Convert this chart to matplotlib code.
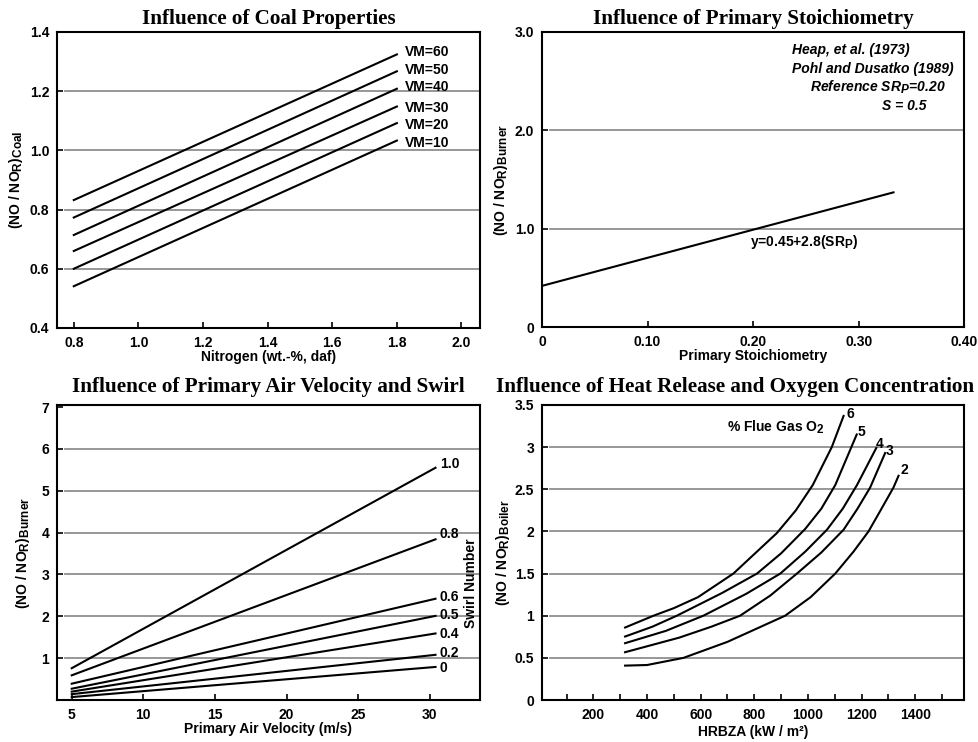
import matplotlib
matplotlib.use('Agg')
import matplotlib.pyplot as plt
import matplotlib._mathtext as mathtext

plt.rcParams['font.family'] = ['Liberation Sans', 'DejaVu Sans']
plt.rcParams['font.weight'] = 'bold'
plt.rcParams['axes.labelweight'] = 'bold'
plt.rcParams['mathtext.default'] = 'regular'
# subscripts in the original are nearly full size
mathtext.SHRINK_FACTOR = 0.85

# ---- top left: coal properties
nitrogen = [0.8, 1.8]
vm_names = ['VM=60', 'VM=50', 'VM=40', 'VM=30', 'VM=20', 'VM=10']
vm_start = [0.832, 0.773, 0.714, 0.660, 0.600, 0.541]
vm_end = [1.324, 1.267, 1.208, 1.148, 1.092, 1.033]
vm_label_y = [1.332, 1.273, 1.213, 1.144, 1.084, 1.025]

# ---- top right: primary stoichiometry
sr_p = [0.0, 0.333]
no_stoich = [0.42, 1.37]

# ---- bottom left: air velocity and swirl
swirl_names = ['1.0', '0.8', '0.6', '0.5', '0.4', '0.2', '0']
velocity = [5.0, 30.4]
swirl_start = [0.76, 0.59, 0.39, 0.27, 0.20, 0.14, 0.07]
swirl_end = [5.55, 3.84, 2.42, 2.01, 1.59, 1.08, 0.79]
swirl_label_y = [5.63, 3.97, 2.46, 2.02, 1.57, 1.13, 0.77]

# ---- bottom right: heat release, % O2
o2_names = ['6', '5', '4', '3', '2']
hrbza = [
    [318, 424, 500, 590, 722, 884, 955, 1018, 1089, 1133],
    [318, 420, 511, 680, 810, 900, 990, 1050, 1102, 1162, 1182],
    [318, 470, 610, 770, 897, 990, 1071, 1130, 1183, 1255],
    [318, 520, 640, 747, 860, 959, 1050, 1133, 1185, 1232, 1288],
    [318, 400, 536, 700, 915, 1010, 1102, 1170, 1226, 1262, 1319, 1338],
]
no_boiler = [
    [0.86, 1.00, 1.09, 1.22, 1.50, 1.98, 2.25, 2.55, 3.00, 3.37],
    [0.753, 0.87, 1.00, 1.27, 1.50, 1.74, 2.03, 2.27, 2.55, 3.00, 3.15],
    [0.674, 0.82, 1.00, 1.26, 1.50, 1.76, 2.02, 2.27, 2.55, 2.99],
    [0.567, 0.74, 0.87, 1.00, 1.24, 1.50, 1.75, 2.02, 2.27, 2.52, 2.93],
    [0.408, 0.415, 0.50, 0.69, 1.00, 1.22, 1.50, 1.76, 2.00, 2.20, 2.52, 2.66],
]
o2_label_x = [1145, 1184, 1252, 1291, 1344]
o2_label_y = [3.39, 3.18, 3.04, 2.96, 2.73]

GRID = '#8f8f8f'
LW = 1.5
title_font = dict(family='Liberation Serif', weight='bold', size=15.2)
fs = 10


def style(ax, grid_y):
    for s in ax.spines.values():
        s.set_linewidth(1.5)
    ax.tick_params(direction='in', length=4, width=1.2, labelsize=fs, pad=5.5,
                   top=False, right=False)
    for g in grid_y:
        ax.axhline(g, xmin=0.02, xmax=1, color=GRID, lw=1.3, zorder=0)


fig = plt.figure(figsize=(9.79, 7.42), dpi=100)
ax1 = fig.add_axes([0.0582, 0.558, 0.432, 0.399])
ax2 = fig.add_axes([0.5536, 0.559, 0.4313, 0.398])
ax3 = fig.add_axes([0.0582, 0.0566, 0.432, 0.3976])
ax4 = fig.add_axes([0.5536, 0.0566, 0.4313, 0.3976])

# top left
for i in range(len(vm_names)):
    ax1.plot(nitrogen, [vm_start[i], vm_end[i]], color='black', lw=LW)
    ax1.text(1.825, vm_label_y[i], vm_names[i], fontsize=fs, va='center')
ax1.set_xlim(0.748, 2.057)
ax1.set_ylim(0.4, 1.4)
ax1.set_xticks([0.8, 1.0, 1.2, 1.4, 1.6, 1.8, 2.0])
ax1.set_xticklabels(['0.8', '1.0', '1.2', '1.4', '1.6', '1.8', '2.0'])
ax1.set_yticks([0.4, 0.6, 0.8, 1.0, 1.2, 1.4])
ax1.set_yticklabels(['0.4', '0.6', '0.8', '1.0', '1.2', '1.4'])
style(ax1, [0.6, 0.8, 1.0, 1.2])
ax1.set_title('Influence of Coal Properties', fontdict=title_font, pad=6)
ax1.set_xlabel('Nitrogen (wt.-%, daf)', fontsize=fs)
ax1.set_ylabel('(NO / NO$_R$)$_{Coal}$', fontsize=fs)
ax1.yaxis.set_label_coords(-0.075, 0.5)
ax1.xaxis.set_label_coords(0.5, -0.075)

# top right
ax2.plot(sr_p, no_stoich, color='black', lw=LW)
ax2.text(0.197, 0.87, 'y=0.45+2.8(SR$_P$)', fontsize=fs, va='center')
ref_font = dict(fontsize=fs, style='italic', weight='bold', va='center',
                transform=ax2.transAxes)
ax2.text(0.593, 0.938, 'Heap, et al. (1973)', **ref_font)
ax2.text(0.593, 0.875, 'Pohl and Dusatko (1989)', **ref_font)
ax2.text(0.635, 0.812, 'Reference SR$_P$=0.20', **ref_font)
ax2.text(0.806, 0.75, 'S = 0.5', **ref_font)
ax2.set_xlim(0, 0.4)
ax2.set_ylim(0, 3.0)
ax2.set_xticks([0, 0.1, 0.2, 0.3, 0.4])
ax2.set_xticklabels(['0', '0.10', '0.20', '0.30', '0.40'])
ax2.set_yticks([0, 1, 2, 3])
ax2.set_yticklabels(['0', '1.0', '2.0', '3.0'])
style(ax2, [1.0, 2.0])
ax2.set_title('Influence of Primary Stoichiometry', fontdict=title_font, pad=6)
ax2.set_xlabel('Primary Stoichiometry', fontsize=fs)
ax2.set_ylabel('(NO / NO$_R$)$_{Burner}$', fontsize=fs)
ax2.yaxis.set_label_coords(-0.076, 0.5)
ax2.xaxis.set_label_coords(0.5, -0.075)

# bottom left
for i in range(len(swirl_names)):
    ax3.plot(velocity, [swirl_start[i], swirl_end[i]], color='black', lw=LW)
    ax3.text(30.7, swirl_label_y[i], swirl_names[i], fontsize=fs, va='center')
ax3.text(32.9, 2.78, 'Swirl Number', fontsize=fs, rotation=90,
         ha='center', va='center')
ax3.set_xlim(3.97, 33.5)
ax3.set_ylim(0, 7.05)
ax3.set_xticks([5, 10, 15, 20, 25, 30])
ax3.set_yticks([1, 2, 3, 4, 5, 6, 7])
style(ax3, [1, 2, 3, 4, 5, 6])
ax3.set_title('Influence of Primary Air Velocity and Swirl', fontdict=title_font, pad=9)
ax3.set_xlabel('Primary Air Velocity (m/s)', fontsize=fs)
ax3.set_ylabel('(NO / NO$_R$)$_{Burner}$', fontsize=fs)
ax3.yaxis.set_label_coords(-0.058, 0.5)
ax3.xaxis.set_label_coords(0.5, -0.075)

# bottom right
for i in range(len(o2_names)):
    ax4.plot(hrbza[i], no_boiler[i], color='black', lw=LW)
    ax4.text(o2_label_x[i], o2_label_y[i], o2_names[i], fontsize=fs, va='center')
ax4.text(698, 3.24, '% Flue Gas O$_2$', fontsize=fs, va='center')
ax4.set_xlim(8, 1583)
ax4.set_ylim(0, 3.5)
ax4.set_xticks(list(range(100, 1600, 100)))
ax4.set_xticklabels([str(v) if v % 200 == 0 and v < 1500 else ''
                     for v in range(100, 1600, 100)])
ax4.set_yticks([0, 0.5, 1, 1.5, 2, 2.5, 3, 3.5])
ax4.set_yticklabels(['0', '0.5', '1', '1.5', '2', '2.5', '3', '3.5'])
style(ax4, [0.5, 1, 1.5, 2, 2.5, 3])
ax4.set_title('Influence of Heat Release and Oxygen Concentration',
              fontdict=title_font, pad=9, x=0.457)
ax4.set_xlabel('HRBZA (kW / m\u00b2)', fontsize=fs)
ax4.set_ylabel('(NO / NO$_R$)$_{Boiler}$', fontsize=fs)
ax4.yaxis.set_label_coords(-0.072, 0.5)
ax4.xaxis.set_label_coords(0.5, -0.085)

fig.savefig('out.png', dpi=100)
